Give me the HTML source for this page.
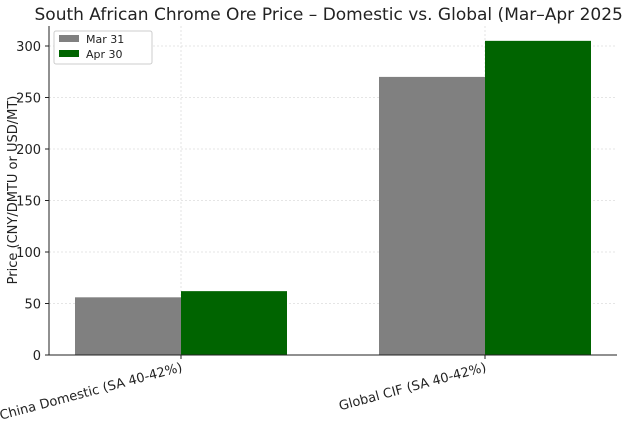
<!DOCTYPE html>
<html><head><meta charset="utf-8"><style>
body{margin:0;background:#fff;font-family:"DejaVu Sans","Liberation Sans",sans-serif;}
svg text{font-family:"DejaVu Sans","Liberation Sans",sans-serif;}
</style></head><body>
<svg id="chart" width="624" height="422" xmlns="http://www.w3.org/2000/svg"></svg>
<script>
const categories = ["China Domestic (SA 40-42%)", "Global CIF (SA 40-42%)"];
const seriesNames = ["Mar 31", "Apr 30"];
const mar31 = [56, 270];
const apr30 = [62, 305];
const yTicks = [0, 50, 100, 150, 200, 250, 300];

const NS = "http://www.w3.org/2000/svg";
const svg = document.getElementById("chart");
const L = 49, R = 617, T = 26, B = 355;
const yScale = v => B - v * 1.03;
const catCenters = [181, 485];
const xScale = i => catCenters[0] + i * (catCenters[1] - catCenters[0]);
const barW = 106;
function el(tag, attrs, text) {
  const e = document.createElementNS(NS, tag);
  for (const k in attrs) e.setAttribute(k, attrs[k]);
  if (text !== undefined) e.textContent = text;
  svg.appendChild(e);
  return e;
}
// title
const title = el("text", {x: 332, y: 20, "text-anchor": "middle", "font-size": 17, fill: "#222"}, "South African Chrome Ore Price – Domestic vs. Global (Mar–Apr 2025)");


// grid
yTicks.forEach(v => {
  const g = el("line", {x1: L, x2: R, y1: yScale(v), y2: yScale(v), stroke: "#ddd", "stroke-dasharray": "2,2", "stroke-width": 0.8});
  
  
  const t = el("text", {x: L - 8, y: yScale(v) + 5, "text-anchor": "end", "font-size": 13, fill: "#222"}, v);
  
  
  const tk = el("line", {x1: L - 4, x2: L, y1: yScale(v), y2: yScale(v), stroke: "#222"});
  
  
});
categories.forEach((c, i) => {
  const g = el("line", {x1: xScale(i), x2: xScale(i), y1: T, y2: B, stroke: "#ddd", "stroke-dasharray": "2,2", "stroke-width": 0.8});
  
  
});
// bars
categories.forEach((c, i) => {
  const b1 = el("rect", {x: xScale(i) - barW, y: yScale(mar31[i]), width: barW, height: B - yScale(mar31[i]), fill: "#808080"});
  
  
  const b2 = el("rect", {x: xScale(i), y: yScale(apr30[i]), width: barW, height: B - yScale(apr30[i]), fill: "#006400"});
  
  
  const tk = el("line", {x1: xScale(i), x2: xScale(i), y1: B, y2: B + 4, stroke: "#222"});
  
  
  const t = el("text", {x: xScale(i) + 2, y: B + 16, "text-anchor": "end", "font-size": 13, fill: "#222", transform: `rotate(-15 ${xScale(i) + 2} ${B + 16})`}, c);
  
  
});
// axes
const ax1 = el("line", {x1: L, x2: L, y1: T, y2: B, stroke: "#222", "stroke-width": 1});


const ax2 = el("line", {x1: L, x2: R, y1: B, y2: B, stroke: "#222", "stroke-width": 1});


const yt = el("text", {x: 0, y: 0, "text-anchor": "middle", "font-size": 13, fill: "#222", transform: "translate(17 190) rotate(-90)"}, "Price (CNY/DMTU or USD/MT)");


// legend
const lg = el("rect", {x: 54, y: 31, width: 98, height: 33, fill: "#fff", stroke: "#ccc", rx: 2});


const colors = ["#808080", "#006400"];
seriesNames.forEach((s, i) => {
  const sw = el("rect", {x: 59, y: 35 + i * 15, width: 20, height: 7, fill: colors[i]});
  
  
  const t = el("text", {x: 86, y: 43 + i * 15, "font-size": 11, fill: "#222"}, s);
  
  
});
</script>
</body></html>
